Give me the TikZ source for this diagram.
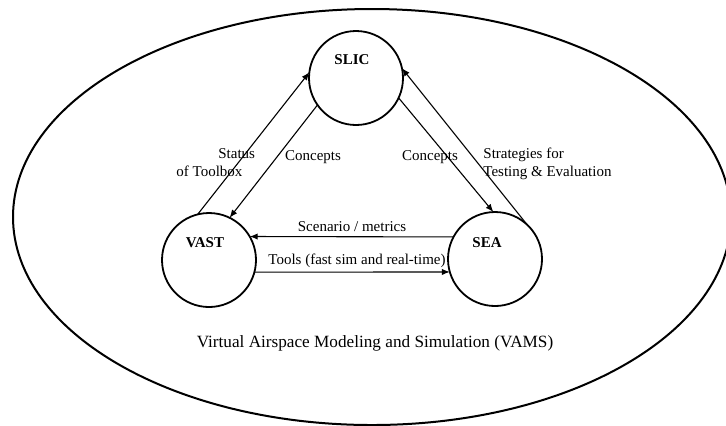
\documentclass[tikz,border=0pt]{standalone}
\usepackage{fontspec}
\setmainfont{Liberation Serif}
\usetikzlibrary{arrows.meta}
\tikzset{
  proc/.style={draw, circle, line width=0.9pt, minimum size=47pt, inner sep=0pt, outer sep=0pt},
  plbl/.style={font=\fontsize{7.5}{9}\selectfont\bfseries, inner sep=0pt},
  lbl/.style={font=\fontsize{7.5}{9}\selectfont, inner sep=0pt},
  flow/.style={line width=0.55pt, -{Latex[length=4pt,width=3.2pt]}},
}
\begin{document}
\begin{tikzpicture}[x=0.5pt, y=-0.5pt]
\useasboundingbox (0,0) rectangle (726,425);
\draw[line width=1pt] (372,217) ellipse [x radius=179.5pt, y radius=104pt];
\node[proc] (slic) at (356,78) {};
\node[proc] (vast) at (209,260) {};
\node[proc] (sea) at (495,259) {};
\node[plbl] (slict) at (352,60) {SLIC};
\node[plbl] (vastt) at (205,243) {VAST};
\node[plbl] (seat) at (487,243) {SEA};
\draw[flow] (vast.104) -- (slic.173);
\draw[flow] (slic.215) -- (vast.64);
\draw[flow] (slic.335) -- (sea.92);
\draw[flow] (sea.47) -- (slic.12);
\draw[flow] (sea.152) -- (vast.30);
\draw[flow] (vast.345) -- (sea.196);
\node[lbl, align=left, anchor=north west] (status) at (176,148) {\hspace{21pt}Status\\of Toolbox};
\node[lbl] (conl) at (313,157) {Concepts};
\node[lbl] (conr) at (430,157) {Concepts};
\node[lbl, align=left, anchor=north west] (strat) at (483,148) {Strategies for\\Testing \& Evaluation};
\node[lbl] (scen) at (352,227) {Scenario / metrics};
\node[lbl] (tools) at (357,261) {Tools (fast sim and real-time)};
\node[lbl, font=\fontsize{8.6}{10}\selectfont] (vams) at (375,343) {Virtual Airspace Modeling and Simulation (VAMS)};
\end{tikzpicture}
\end{document}
